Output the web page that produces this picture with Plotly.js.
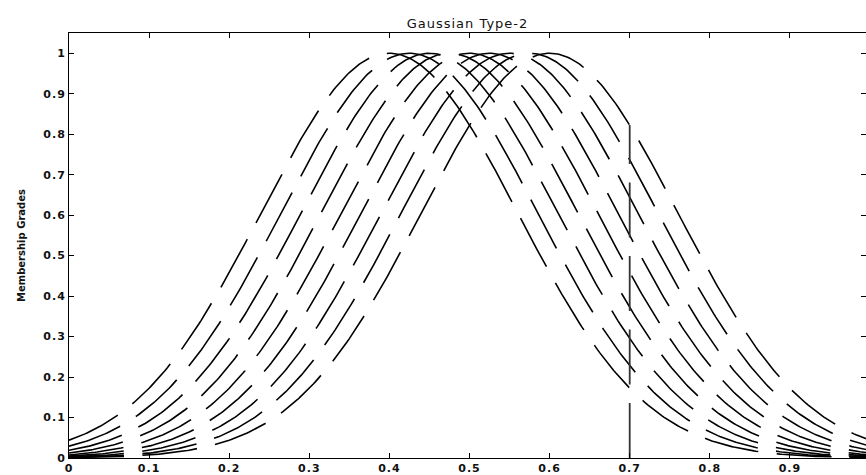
<!DOCTYPE html>
<html>
<head>
<meta charset="utf-8">
<script src="https://cdn.plot.ly/plotly-3.0.1.min.js"></script>
<style>
html,body{margin:0;padding:0;background:#fff;}
#chart{width:866px;height:475px;}
.xtick text,.ytick text{letter-spacing:1px;}
.gtitle{letter-spacing:1px;}
</style>
</head>
<body>
<div id="chart"></div>
<script>
// Gaussian type-2 MF with uncertain mean: primary Gaussians
const means = [0.4, 0.425, 0.45, 0.475, 0.5, 0.525, 0.55, 0.575, 0.6];
const sigma = 0.16;
const xStart = 0, xEnd = 1, nSamples = 401;
const markerX = 0.7;               // vertical line position
const xTickVals = [0, 0.1, 0.2, 0.3, 0.4, 0.5, 0.6, 0.7, 0.8, 0.9];
const xTickText = ['0', '0.1', '0.2', '0.3', '0.4', '0.5', '0.6', '0.7', '0.8', '0.9'];
const yTickVals = [0, 0.1, 0.2, 0.3, 0.4, 0.5, 0.6, 0.7, 0.8, 0.9, 1];
const yTickText = ['0', '0.1', '0.2', '0.3', '0.4', '0.5', '0.6', '0.7', '0.8', '0.9', '1'];

const gauss = (x, m, s) => Math.exp(-((x - m) * (x - m)) / (2 * s * s));
const xs = [];
for (let i = 0; i < nSamples; i++) xs.push(xStart + (xEnd - xStart) * i / (nSamples - 1));

const traces = means.map(m => ({
  x: xs,
  y: xs.map(x => gauss(x, m, sigma)),
  mode: 'lines',
  line: {color: '#000', width: 1.6, dash: '55px,18.5px'},
  hoverinfo: 'skip', showlegend: false
}));
const upperAtMarker = Math.max(...means.map(m => gauss(markerX, m, sigma)));
traces.push({
  x: [markerX, markerX], y: [0, upperAtMarker], mode: 'lines',
  line: {color: '#333', width: 1.8, dash: '55px,18.5px'},
  hoverinfo: 'skip', showlegend: false
});

const tickFont = {family: 'DejaVu Sans, Arial, sans-serif', size: 11, weight: 'bold', color: '#111'};
const layout = {
  width: 866, height: 475,
  margin: {l: 69, r: 0, t: 33, b: 17},
  paper_bgcolor: '#fff', plot_bgcolor: '#fff',
  title: {text: 'Gaussian Type-2', font: {family: 'DejaVu Sans, Arial, sans-serif', size: 13, color: '#111'}, x: 0.5, xref: 'paper', y: 0.96, yref: 'container'},
  xaxis: {
    range: [0, 0.995], tickvals: xTickVals, ticktext: xTickText,
    ticks: 'inside', ticklen: 5, tickcolor: '#000', tickwidth: 1,
    showline: true, linecolor: '#000', linewidth: 1, mirror: 'ticks',
    showgrid: false, zeroline: false, tickfont: tickFont
  },
  yaxis: {
    range: [0, 1.05], tickvals: yTickVals, ticktext: yTickText,
    ticks: 'inside', ticklen: 5, tickcolor: '#000', tickwidth: 1,
    showline: true, linecolor: '#000', linewidth: 1, mirror: 'ticks',
    showgrid: false, zeroline: false, tickfont: tickFont,
    title: {text: 'Membership Grades', font: {family: 'DejaVu Sans, Arial, sans-serif', size: 10, weight: 'bold', color: '#111'}, standoff: 15}
  }
};
Plotly.newPlot('chart', traces, layout, {staticPlot: true, displayModeBar: false});
</script>
</body>
</html>
